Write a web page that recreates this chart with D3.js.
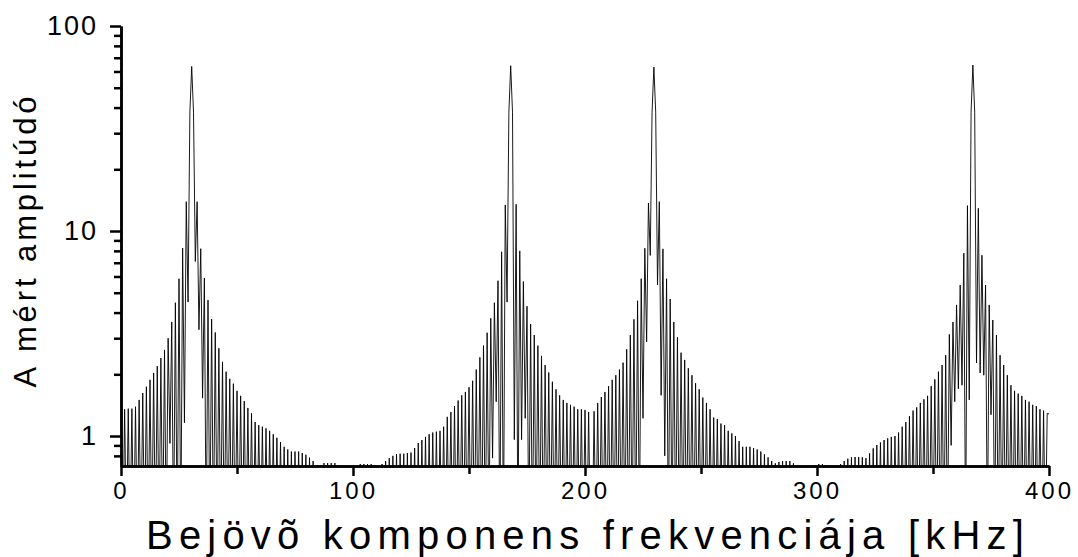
<!DOCTYPE html>
<html>
<head>
<meta charset="utf-8">
<script src="https://cdn.jsdelivr.net/npm/d3@7"></script>
<style>
  body { margin: 0; background: #fff; }
  svg { display: block; font-family: "Liberation Sans", Arial, sans-serif; }
</style>
</head>
<body>
<div id="chart"></div>
<script>
// spectrum values, one per FFT bin (0 .. 400 kHz, 512 bins)
// values of 0.3 are troughs that fall below the bottom of the axis
const amplitude = [
  1.35, 0.3, 1.35, 0.3, 1.36, 0.3, 1.36, 0.3, 1.39, 0.3, 1.5, 0.3, 1.62, 0.3, 1.74, 0.3,
  1.88, 0.3, 2.03, 0.3, 2.19, 0.3, 2.4, 0.3, 2.63, 0.3, 3.0, 0.92, 3.6, 0.3, 4.47, 0.3,
  5.85, 0.3, 8.26, 1.16, 13.9, 4.5, 38, 63.5, 38, 7.1, 13.9, 3.3, 8.2, 1.53, 5.9, 0.3,
  4.6, 0.3, 3.72, 0.3, 3.2, 0.3, 2.68, 0.3, 2.3, 0.3, 2.06, 0.3, 1.9, 0.3, 1.8, 0.3,
  1.66, 0.3, 1.57, 0.3, 1.48, 0.3, 1.37, 0.3, 1.29, 0.3, 1.17, 0.3, 1.13, 0.3, 1.11, 0.3,
  1.09, 0.3, 1.06, 0.3, 1.02, 0.3, 0.98, 0.3, 0.935, 0.3, 0.886, 0.3, 0.86, 0.3, 0.84, 0.3,
  0.84, 0.3, 0.84, 0.3, 0.826, 0.3, 0.81, 0.3, 0.784, 0.3, 0.755, 0.3, 0.72, 0.3, 0.72, 0.3,
  0.738, 0.3, 0.738, 0.3, 0.738, 0.3, 0.738, 0.3, 0.72, 0.3, 0.69, 0.3, 0.66, 0.3, 0.64, 0.3,
  0.66, 0.3, 0.69, 0.3, 0.73, 0.3, 0.73, 0.3, 0.73, 0.3, 0.73, 0.3, 0.72, 0.3, 0.70, 0.3,
  0.73, 0.3, 0.755, 0.3, 0.78, 0.3, 0.8, 0.3, 0.817, 0.3, 0.82, 0.3, 0.82, 0.3, 0.826, 0.3,
  0.83, 0.3, 0.874, 0.3, 0.924, 0.3, 0.956, 0.3, 0.99, 0.3, 1.02, 0.3, 1.04, 0.3, 1.05, 0.3,
  1.06, 0.3, 1.11, 0.3, 1.24, 0.3, 1.31, 0.3, 1.4, 0.3, 1.49, 0.3, 1.58, 0.3, 1.64, 0.3,
  1.73, 0.3, 1.86, 0.3, 2.11, 0.3, 2.42, 0.3, 2.76, 0.3, 3.19, 0.3, 3.75, 0.78, 4.47, 1.47,
  5.72, 0.3, 7.92, 0.3, 13.4, 4.5, 38, 64, 38, 0.96, 13.5, 0.3, 8.0, 0.96, 5.67, 1.22,
  4.3, 0.3, 3.52, 0.3, 3.11, 0.3, 2.76, 0.3, 2.46, 0.3, 2.22, 0.3, 2.04, 0.3, 1.84, 0.3,
  1.69, 0.3, 1.58, 0.3, 1.5, 0.3, 1.45, 0.3, 1.42, 0.3, 1.39, 0.3, 1.35, 0.3, 1.35, 0.3,
  1.34, 0.3, 1.31, 0.3, 0.3, 1.32, 0.3, 1.45, 0.3, 1.55, 0.3, 1.64, 0.3, 1.75, 0.3, 1.88,
  0.3, 1.98, 0.3, 2.11, 0.3, 2.28, 0.3, 2.65, 0.3, 3.11, 0.3, 3.71, 0.3, 4.57, 0.3, 5.85,
  1.22, 8.24, 2.88, 13.7, 7.6, 38, 63, 38, 5.45, 13.9, 1.58, 8.18, 0.8, 5.85, 0.3, 4.66,
  0.3, 3.6, 0.3, 3.03, 0.3, 2.55, 0.3, 2.35, 0.3, 2.14, 0.3, 1.98, 0.3, 1.81, 0.3, 1.69,
  0.3, 1.54, 0.3, 1.45, 0.3, 1.35, 0.3, 1.23, 0.3, 1.21, 0.3, 1.15, 0.3, 1.13, 0.3, 1.06,
  0.3, 1.03, 0.3, 1.0, 0.3, 0.945, 0.3, 0.886, 0.3, 0.886, 0.3, 0.886, 0.3, 0.874, 0.3, 0.86,
  0.3, 0.84, 0.3, 0.814, 0.3, 0.787, 0.3, 0.755, 0.3, 0.736, 0.3, 0.747, 0.3, 0.755, 0.3, 0.755,
  0.3, 0.755, 0.3, 0.736, 0.3, 0.72, 0.3, 0.69, 0.3, 0.66, 0.3, 0.66, 0.3, 0.69, 0.3, 0.72,
  0.3, 0.73, 0.3, 0.73, 0.3, 0.72, 0.3, 0.7, 0.3, 0.69, 0.3, 0.7, 0.3, 0.73, 0.3, 0.755,
  0.3, 0.775, 0.3, 0.787, 0.3, 0.79, 0.3, 0.79, 0.3, 0.787, 0.3, 0.78, 0.3, 0.823, 0.3, 0.87,
  0.3, 0.904, 0.3, 0.93, 0.3, 0.956, 0.3, 0.974, 0.3, 0.99, 0.3, 1.0, 0.3, 1.04, 0.3, 1.11,
  0.3, 1.17, 0.3, 1.25, 0.3, 1.33, 0.3, 1.38, 0.3, 1.45, 0.3, 1.51, 0.3, 1.57, 0.3, 1.75,
  0.3, 1.89, 0.3, 2.06, 0.3, 2.22, 0.3, 2.48, 0.3, 3.13, 0.9, 3.6, 1.47, 4.36, 1.7, 5.45,
  1.77, 7.8, 0.3, 13.3, 1.5, 38, 64.5, 38, 2.27, 12.9, 2.03, 7.62, 1.98, 5.45, 0.3, 4.36,
  1.27, 3.68, 0.3, 3.11, 0.3, 2.48, 0.3, 2.22, 0.3, 1.98, 0.3, 1.77, 0.3, 1.66, 0.3, 1.61,
  0.3, 1.57, 0.3, 1.5, 0.3, 1.47, 0.3, 1.42, 0.3, 1.4, 0.3, 1.35, 0.3, 1.33, 0.3, 1.29,
  1.28
];
const binKHz = 400 / 512;

const xTicks = [0, 100, 200, 300, 400];
const xMinorTicks = [50, 150, 250, 350];
const yTicks = [1, 10, 100];
const yMinorTicks = [0.8, 0.9, 2, 3, 4, 5, 6, 7, 8, 9, 20, 30, 40, 50, 60, 70, 80, 90];
const xTitle = "Bejövõ komponens frekvenciája [kHz]";
const yTitle = "A mért amplitúdó";

const width = 1078, height = 557;
const margins = { top: 26, right: 29, bottom: 91, left: 121 };

const svg = d3.select("#chart")
  .append("svg")
  .attr("width", width)
  .attr("height", height);

const xScale = d3.scaleLinear()
  .domain([0, 400])
  .range([margins.left, width - margins.right]);

const yScale = d3.scaleLog()
  .domain([0.714, 100])
  .range([height - margins.bottom, margins.top]);

// clip so the troughs stop at the axis
svg.append("clipPath")
  .attr("id", "plot-clip")
  .append("rect")
  .attr("x", margins.left)
  .attr("y", 0)
  .attr("width", width - margins.right - margins.left + 1)
  .attr("height", height - margins.bottom);

const line = d3.line()
  .x((d, i) => xScale(i * binKHz))
  .y(d => yScale(d));

svg.append("path")
  .datum(amplitude)
  .attr("clip-path", "url(#plot-clip)")
  .attr("fill", "none")
  .attr("stroke", "#000")
  .attr("stroke-width", 0.9)
  .attr("stroke-linejoin", "miter")
  .attr("d", line);

// axes
function styleAxis(g, w) {
  g.select(".domain").attr("stroke", "#000").attr("stroke-width", w);
  g.selectAll(".tick line").attr("stroke", "#000").attr("stroke-width", w);
  g.selectAll("text")
    .attr("fill", "#000")
    .style("font-family", "'Liberation Sans', Arial, sans-serif");
}

const yAxis = svg.append("g")
  .attr("transform", `translate(${margins.left},0)`)
  .call(d3.axisLeft(yScale).tickValues(yTicks).tickFormat(d3.format("d"))
    .tickSize(11).tickSizeOuter(0).tickPadding(12))
  .call(styleAxis, 2.5);
yAxis.selectAll("text").style("font-size", "27px").style("letter-spacing", "2px");

svg.append("g")
  .attr("transform", `translate(${margins.left},0)`)
  .call(d3.axisLeft(yScale).tickValues(yMinorTicks).tickFormat("")
    .tickSize(7).tickSizeOuter(0))
  .call(styleAxis, 2.5);

const xAxis = svg.append("g")
  .attr("transform", `translate(0,${height - margins.bottom})`)
  .call(d3.axisBottom(xScale).tickValues(xTicks).tickFormat(d3.format("d"))
    .tickSize(10).tickSizeOuter(0).tickPadding(6))
  .call(styleAxis, 2.5);
xAxis.selectAll("text").style("font-size", "24px").style("letter-spacing", "3px");

svg.append("g")
  .attr("transform", `translate(0,${height - margins.bottom})`)
  .call(d3.axisBottom(xScale).tickValues(xMinorTicks).tickFormat("")
    .tickSize(8).tickSizeOuter(0))
  .call(styleAxis, 2.5);

// axis titles
svg.append("text")
  .attr("x", (margins.left + width - margins.right) / 2 + 3)
  .attr("y", 549)
  .attr("text-anchor", "middle")
  .style("font-size", "40px")
  .style("letter-spacing", "6.2px")
  .text(xTitle);

svg.append("text")
  .attr("transform", `translate(36,240) rotate(-90)`)
  .attr("text-anchor", "middle")
  .style("font-size", "31px")
  .style("letter-spacing", "3.9px")
  .text(yTitle);
</script>
</body>
</html>
